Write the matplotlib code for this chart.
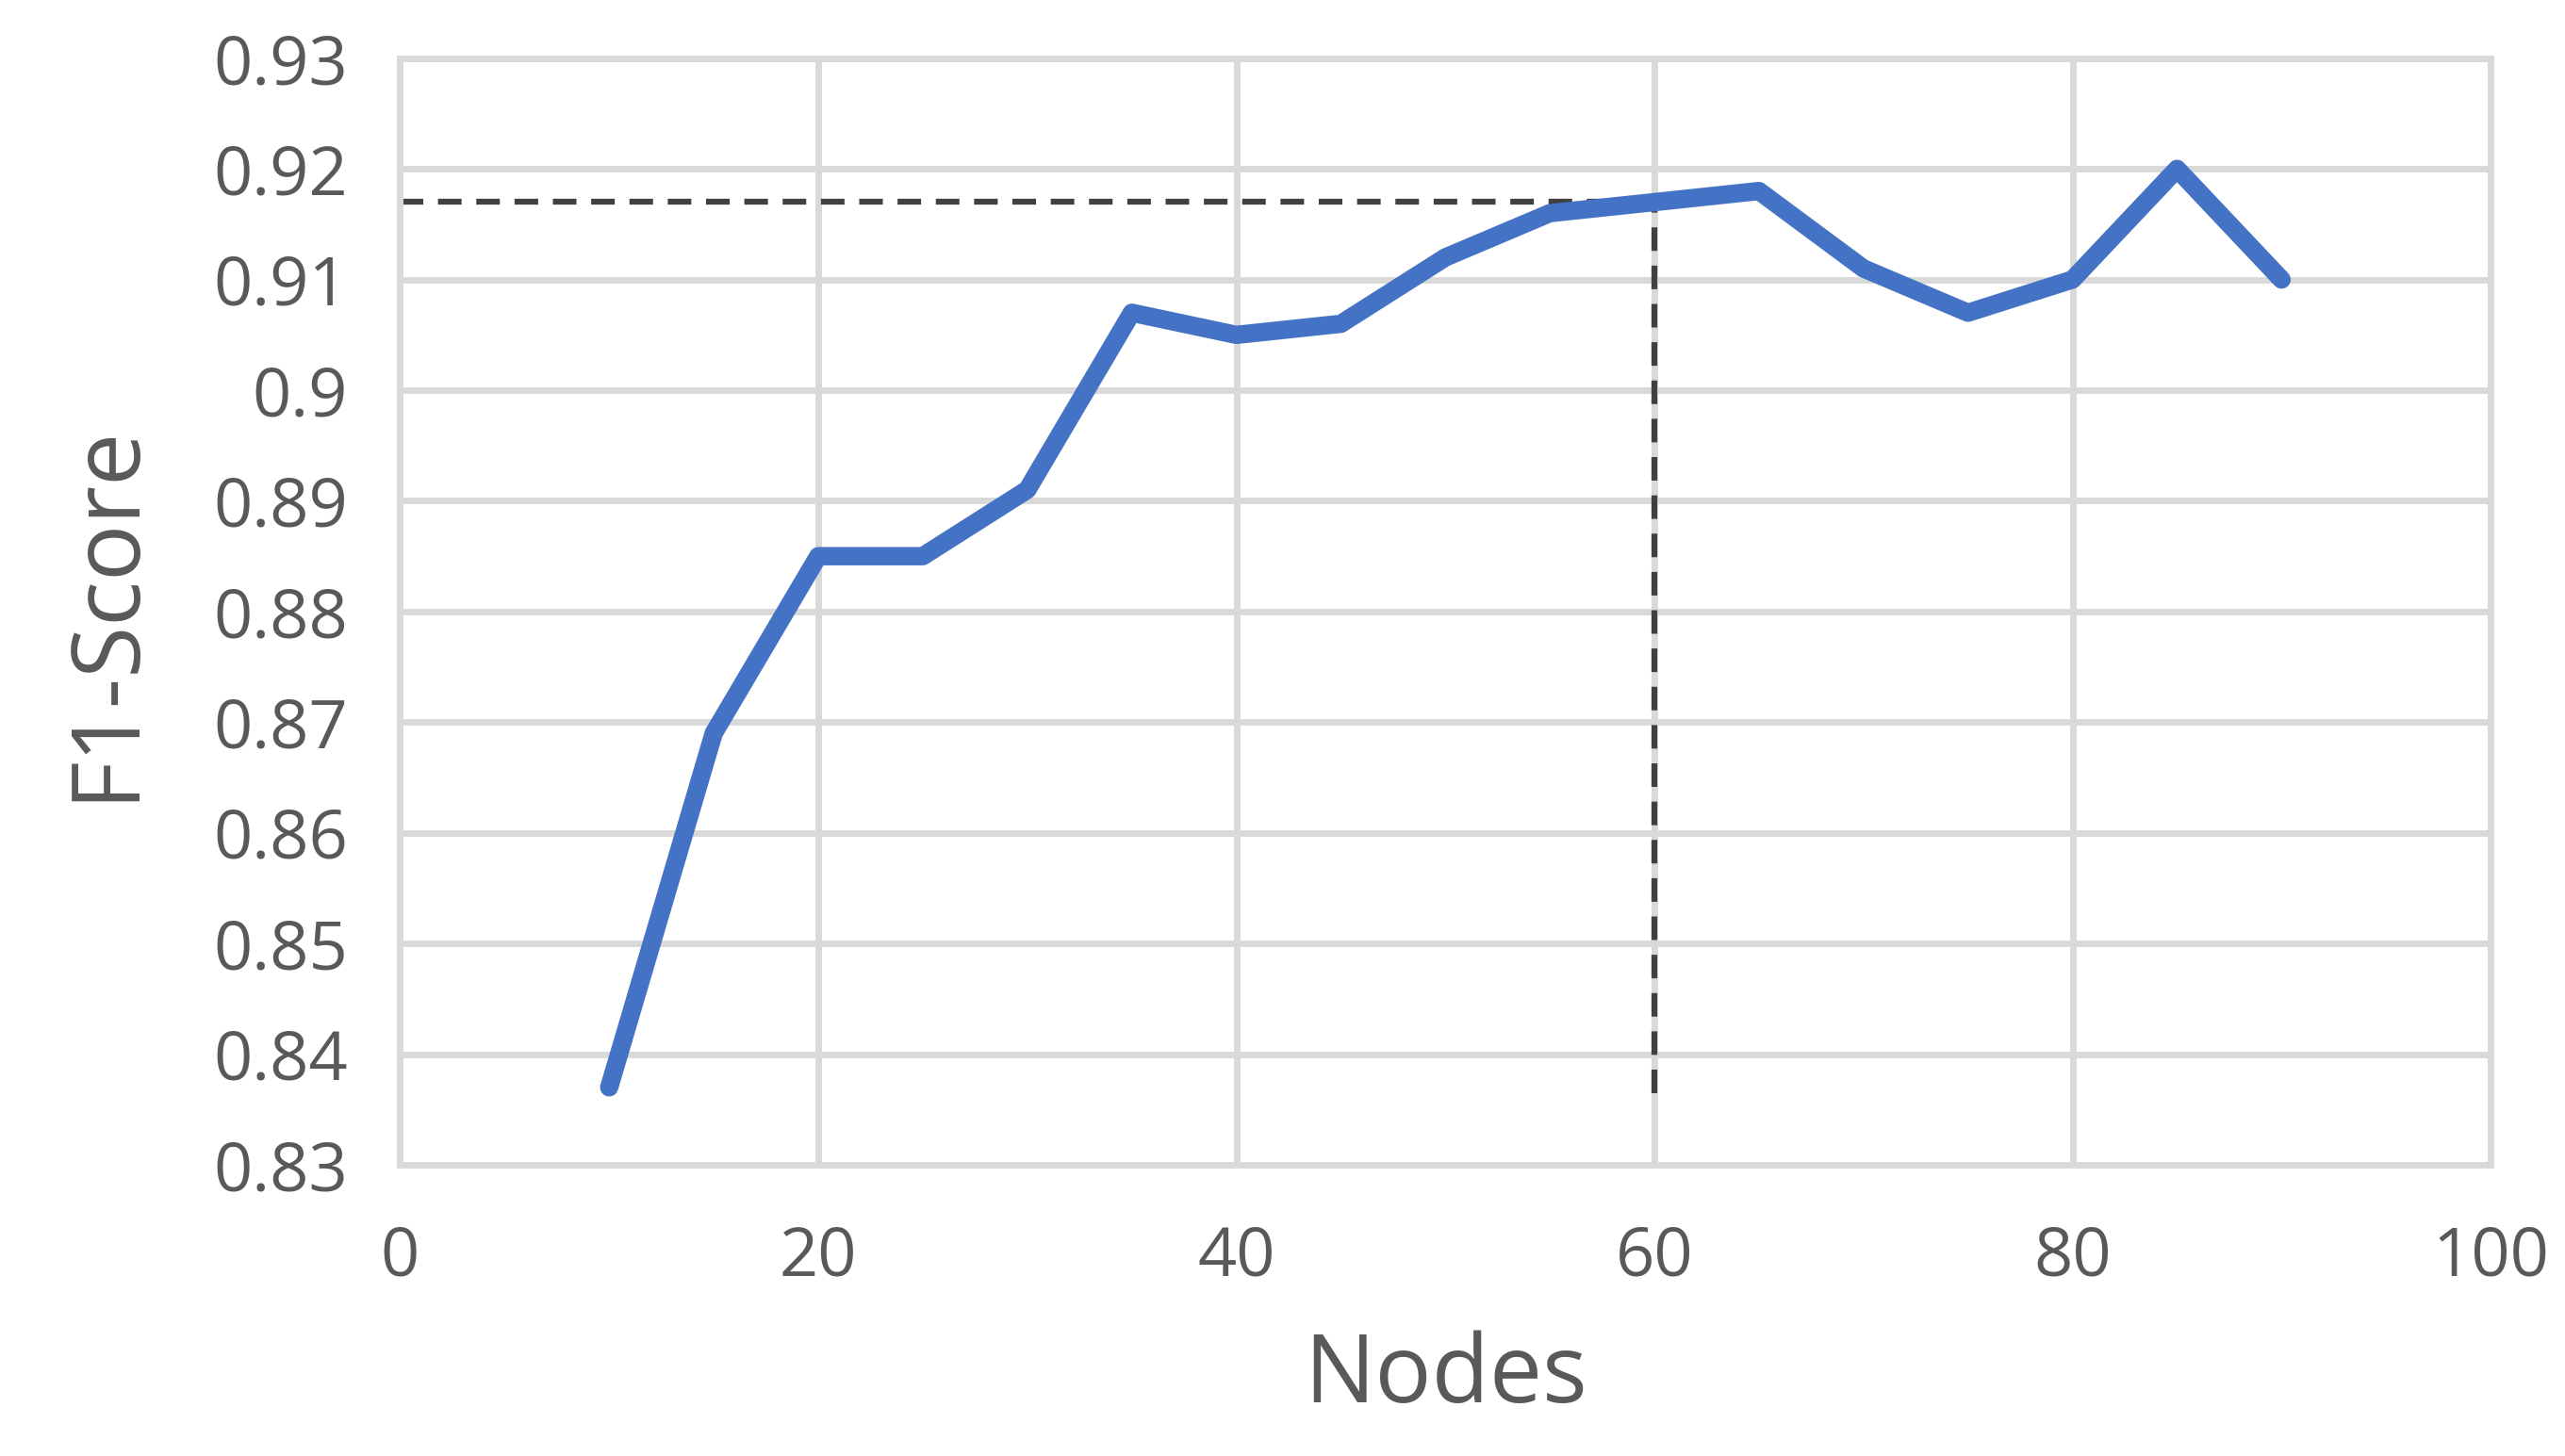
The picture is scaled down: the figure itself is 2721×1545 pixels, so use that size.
import matplotlib
matplotlib.use("Agg")
import matplotlib.pyplot as plt

nodes = [10, 15, 20, 25, 30, 35, 40, 45, 50, 55, 60, 65, 70, 75, 80, 85, 90]
f1 = [0.837, 0.869, 0.885, 0.885, 0.891, 0.907, 0.905, 0.906, 0.912, 0.916,
      0.917, 0.918, 0.911, 0.907, 0.910, 0.920, 0.910]
best_x = 60
best_y = 0.917

plt.rcParams['font.family'] = ['Open Sans', 'DejaVu Sans']
fig = plt.figure(figsize=(27.21, 15.45), dpi=100)
ax = fig.add_axes([0.156, 0.200, 0.815, 0.760])
ax.plot(nodes, f1, color='#4472C4', lw=14, solid_capstyle='round', solid_joinstyle='round', zorder=3)
ax.plot([0, best_x], [best_y, best_y], ls=(0, (4, 2.5)), color='#404040', lw=4.5, zorder=2)
ax.plot([best_x, best_x], [0.8365, best_y], ls=(0, (4, 2.5)), color='#404040', lw=4.5, zorder=2)
ax.set_xlim(0, 100)
ax.set_ylim(0.83, 0.93)
ax.set_xticks(range(0, 101, 20))
yt = [0.83 + 0.01 * i for i in range(11)]
ax.set_yticks(yt)
ax.set_yticklabels([f"{v:.2f}".rstrip('0').rstrip('.') if f"{v:.2f}".endswith('0') else f"{v:.2f}" for v in yt])
ax.grid(True, color='#d9d9d9', lw=5)
ax.set_axisbelow(True)
for s in ax.spines.values():
    s.set_color('#d9d9d9'); s.set_linewidth(5)
ax.tick_params(length=0, labelsize=52, colors='#595959')
ax.tick_params(axis='x', pad=45)
ax.tick_params(axis='y', pad=40)
ax.set_xlabel('Nodes', fontsize=72, color='#595959', labelpad=30)
ax.set_ylabel('F1-Score', fontsize=72, color='#595959', labelpad=45)
fig.savefig('out.png', dpi=100, facecolor='white')
